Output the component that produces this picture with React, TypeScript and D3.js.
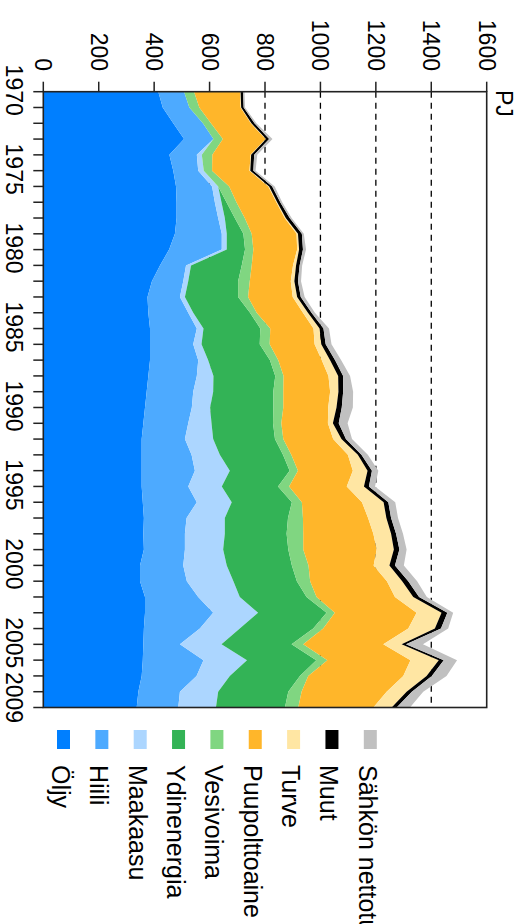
import React from "react";
import * as d3 from "d3";

const years = [1970,1971,1972,1973,1974,1975,1976,1977,1978,1979,1980,1981,1982,1983,1984,1985,1986,1987,1988,1989,1990,1991,1992,1993,1994,1995,1996,1997,1998,1999,2000,2001,2002,2003,2004,2005,2006,2007,2008,2009];

const oljy = [415,431,469,508,455,469,479,481,481,475,454,421,392,376,379,385,385,385,379,373,367,361,355,355,355,355,359,363,361,363,349,349,367,367,363,361,359,355,343,337];
const hiili = [93,96,107,106,99,90,130,138,150,169,190,94,113,117,144,169,156,174,175,168,169,162,156,180,192,168,195,154,150,148,156,169,192,246,202,132,219,198,150,150];
const maakaasu = [0,0,0,0,18,20,22,24,24,18,18,18,18,18,18,24,30,36,60,72,66,84,102,102,126,121,126,138,144,138,157,168,150,162,144,150,157,120,138,136];
const ydinenergia = [0,0,0,0,0,0,0,18,36,60,66,183,180,192,205,205,210,223,223,217,228,222,223,228,216,203,217,228,223,235,235,229,241,247,265,253,250,253,253,249];
const vesivoima = [36,36,29,34,38,30,40,36,36,30,30,36,42,36,24,36,36,30,30,36,36,30,30,30,30,40,36,54,60,54,60,48,36,30,36,42,40,30,48,48];
const puupolttoaine = [166,149,144,154,138,135,141,144,144,162,158,149,148,161,167,156,162,157,162,169,162,168,180,204,198,208,217,235,253,265,235,277,283,295,307,289,300,343,307,271];
const turve = [2,2,2,2,2,3,3,3,4,5,7,11,13,16,18,22,24,30,35,30,30,18,30,36,53,62,78,66,64,62,57,55,66,90,96,66,102,84,72,66];
const muut = [9,9,11,11,11,11,11,11,14,14,14,13,13,13,13,14,16,18,18,17,19,21,16,13,16,18,17,17,18,20,20,22,21,21,22,16,18,19,19,18];
const sahko = [5,5,7,12,11,8,9,7,7,7,11,9,11,14,12,20,21,22,25,36,40,32,22,23,23,22,25,25,25,26,32,32,28,21,26,61,48,53,41,48];

const seriesNames = ["Öljy","Hiili","Maakaasu","Ydinenergia","Vesivoima","Puupolttoaine","Turve","Muut","Sähkön nettotuonti"];
const seriesValues = [oljy,hiili,maakaasu,ydinenergia,vesivoima,puupolttoaine,turve,muut,sahko];
const seriesColors = ["#007fff","#4daaff","#acd6ff","#33b356","#80d681","#ffb62a","#ffe6a3","#000000","#c0c0c0"];

const yearLabels = [1970,1975,1980,1985,1990,1995,2000,2005,2009];
const valueTicks = [0,200,400,600,800,1000,1200,1400,1600];
const unitLabel = "PJ";

const FONT = "'Liberation Sans', Arial, Helvetica, sans-serif";

export default function App() {
  // Chart laid out unrotated (924 wide x 527 tall), then rotated 90° clockwise.
  const left = 91.7, right = 707.5, top = 40.3, bottom = 483.7;
  const x = d3.scaleLinear().domain([1970, 2009]).range([left, right]);
  const y = d3.scaleLinear().domain([0, 1600]).range([bottom, top]);

  const rows = years.map((yr, i) => {
    const r: any = { year: yr };
    seriesNames.forEach((n, k) => (r[n] = seriesValues[k][i]));
    return r;
  });
  const stacked = d3.stack().keys(seriesNames)(rows);
  const area = d3
    .area<any>()
    .x((d) => x(d.data.year))
    .y0((d) => y(d[0]))
    .y1((d) => y(d[1]))
    .curve(d3.curveLinear);

  return (
    <svg width={527} height={924} style={{ position: "absolute", left: 0, top: 0, background: "#fff" }}>
      <g transform="translate(527,0) rotate(90)" fontFamily={FONT}>
        {valueTicks.slice(1, -1).map((v) => (
          <line key={"g" + v} x1={left} x2={right} y1={y(v)} y2={y(v)} stroke="#000" strokeWidth={1.3} strokeDasharray="6,5" />
        ))}
        {stacked.map((s, k) => (
          <path key={s.key} d={area(s as any) || ""} fill={seriesColors[k]} />
        ))}
        <rect x={left} y={top} width={right - left} height={bottom - top} fill="none" stroke="#222" strokeWidth={1.6} />
        {valueTicks.map((v) => (
          <g key={"v" + v}>
            <line x1={left - 10} x2={left} y1={y(v)} y2={y(v)} stroke="#222" strokeWidth={1.5} />
            <text x={71} y={y(v)} dy="0.35em" textAnchor="end" fontSize={23} fill="#000">{v}</text>
          </g>
        ))}
        {years.map((yr) => (
          <line key={"t" + yr} x1={x(yr)} x2={x(yr)} y1={bottom} y2={bottom + 10} stroke="#222" strokeWidth={1.5} />
        ))}
        {yearLabels.map((yr) => (
          <text key={"yl" + yr} x={x(yr) - (yr === 2009 ? 10 : 1.5)} y={521} textAnchor="middle" fontSize={23} fill="#000">{yr}</text>
        ))}
        <text x={90} y={31} fontSize={23} fill="#000">{unitLabel}</text>
        {seriesNames.map((n, i) => (
          <g key={"l" + n}>
            <rect x={730} y={457 - 38.35 * i} width={19} height={13} fill={seriesColors[i]} />
            <text x={765} y={457 - 38.35 * i + 18} fontSize={25} fill="#000">{n}</text>
          </g>
        ))}
      </g>
    </svg>
  );
}
